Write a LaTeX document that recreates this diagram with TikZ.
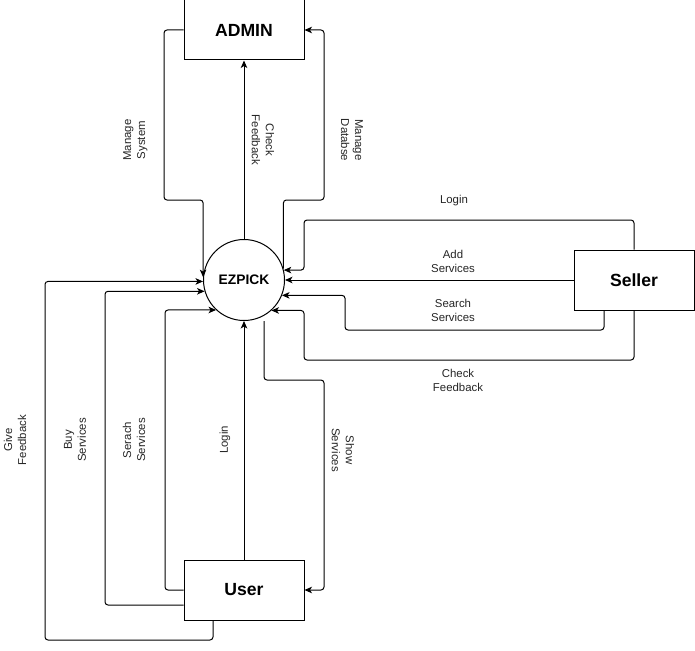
\documentclass[tikz,border=0pt]{standalone}
\usepackage{fontspec}
\setmainfont{Liberation Sans}
\usetikzlibrary{arrows.meta}
\tikzset{
  conn/.style={draw=black, line width=1pt, rounded corners=3pt, -{Stealth[length=7.5pt,width=6.5pt,inset=2pt]}},
  entity/.style={draw=black, line width=1pt, minimum width=120pt, minimum height=60pt, inner sep=0pt, font=\fontsize{17.6}{20}\selectfont\bfseries},
  proc/.style={draw=black, line width=1pt, circle, minimum size=81pt, inner sep=0pt, font=\fontsize{13.8}{16}\selectfont\bfseries},
  lbl/.style={align=center, inner sep=0pt, text=black!85, font=\fontsize{11.4}{14}\selectfont}
}
\begin{document}
\begin{tikzpicture}[x=1pt, y=-1pt]
\useasboundingbox[fill=white] (0,0) rectangle (695,650);
% nodes
\node[entity] (admin) at (244,30) {ADMIN};
\node[proc] (ez) at (244,280) {EZPICK};
\node[entity] (seller) at (634,280) {Seller};
\node[entity] (user) at (244,590) {User};
% admin connectors
\draw[conn] (admin.west) -| (164,200) -| (ez.176);
\draw[conn] (ez.north) -- (admin.south);
\draw[conn] (ez.16) |- (324,200) |- (admin.east);
% seller connectors
\draw[conn] (seller.north) |- (304,220) |- (ez.14);
\draw[conn] (seller.west) -- (ez.east);
\draw[conn] ([xshift=-30pt]seller.south) |- (345,330) |- (ez.-22);
\draw[conn] (seller.south) |- (304,360) |- (ez.-48);
% user connectors
\draw[conn] ([xshift=20pt]ez.south) |- (324,380) |- (user.east);
\draw[conn] (user.north) -- (ez.south);
\draw[conn] (user.west) -| (165,400) |- (ez.227);
\draw[conn] ([yshift=-15pt]user.west) -| (105,400) |- (ez.196);
\draw[conn] ([xshift=-31pt]user.south) |- (45,640) |- (ez.182);
% labels
\node[lbl, rotate=90] (l1) at (135.5,140) {Manage\\System};
\node[lbl, rotate=-90] (l2) at (263,140) {Check\\Feedback};
\node[lbl, rotate=-90] (l3) at (352,140) {Manage\\Databse};
\node[lbl] (l4) at (454,201) {Login};
\node[lbl] (l5) at (453,261) {Add\\Services};
\node[lbl] (l6) at (453,310) {Search\\Services};
\node[lbl] (l7) at (458,380) {Check\\Feedback};
\node[lbl, rotate=-90] (l8) at (343,450) {Show\\Services};
\node[lbl, rotate=90] (l9) at (225,440) {Login};
\node[lbl, rotate=90] (l10) at (134,440) {Serach\\Services};
\node[lbl, rotate=90] (l11) at (75,440) {Buy\\Services};
\node[lbl, rotate=90] (l12) at (15,440) {Give\\Feedback};
\end{tikzpicture}
\end{document}
